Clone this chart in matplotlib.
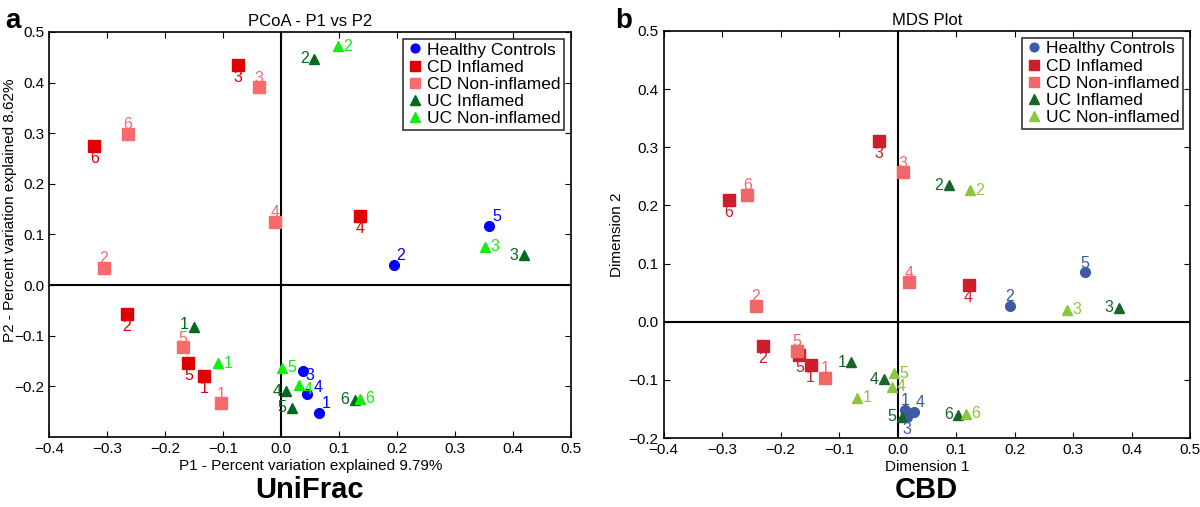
import matplotlib
matplotlib.use("Agg")
import matplotlib.pyplot as plt

plt.rcParams['font.family'] = ['Liberation Sans', 'DejaVu Sans']

# ---- data: panel a (UniFrac PCoA) ----
groups = ['Healthy Controls', 'CD Inflamed', 'CD Non-inflamed', 'UC Inflamed', 'UC Non-inflamed']

a_hc_id = ['1', '2', '3', '4', '5']
a_hc_x = [0.066, 0.194, 0.037, 0.045, 0.359]
a_hc_y = [-0.252, 0.039, -0.169, -0.215, 0.116]

a_cdi_id = ['1', '2', '3', '4', '5', '6']
a_cdi_x = [-0.133, -0.266, -0.074, 0.136, -0.160, -0.322]
a_cdi_y = [-0.180, -0.057, 0.435, 0.136, -0.153, 0.275]

a_cdn_id = ['1', '2', '3', '4', '5', '6']
a_cdn_x = [-0.103, -0.306, -0.038, -0.010, -0.170, -0.264]
a_cdn_y = [-0.233, 0.034, 0.391, 0.125, -0.123, 0.299]

a_uci_id = ['1', '2', '3', '4', '5', '6']
a_uci_x = [-0.150, 0.057, 0.418, 0.009, 0.018, 0.127]
a_uci_y = [-0.082, 0.447, 0.059, -0.210, -0.242, -0.226]

a_ucn_id = ['1', '2', '3', '4', '5', '6']
a_ucn_x = [-0.109, 0.098, 0.352, 0.030, 0.001, 0.135]
a_ucn_y = [-0.154, 0.472, 0.076, -0.197, -0.163, -0.224]

# ---- data: panel b (CBD MDS) ----
b_hc_id = ['1', '2', '3', '4', '5']
b_hc_x = [0.013, 0.192, 0.016, 0.027, 0.320]
b_hc_y = [-0.151, 0.027, -0.163, -0.155, 0.085]

b_cdi_id = ['1', '2', '3', '4', '5', '6']
b_cdi_x = [-0.149, -0.230, -0.032, 0.121, -0.168, -0.288]
b_cdi_y = [-0.074, -0.042, 0.311, 0.063, -0.057, 0.210]

b_cdn_id = ['1', '2', '3', '4', '5', '6']
b_cdn_x = [-0.124, -0.242, 0.009, 0.020, -0.172, -0.257]
b_cdn_y = [-0.096, 0.027, 0.257, 0.068, -0.050, 0.218]

b_uci_id = ['1', '2', '3', '4', '5', '6']
b_uci_x = [-0.079, 0.087, 0.378, -0.023, 0.007, 0.103]
b_uci_y = [-0.070, 0.235, 0.024, -0.099, -0.163, -0.160]

b_ucn_id = ['1', '2', '3', '4', '5', '6']
b_ucn_x = [-0.069, 0.124, 0.290, -0.010, -0.007, 0.116]
b_ucn_y = [-0.131, 0.226, 0.021, -0.112, -0.089, -0.158]

# ---- styles ----
markers = ['o', 's', 's', '^', '^']
sizes = [7, 8, 8, 7.5, 7.5]
a_colors = ['#0000ff', '#e00000', '#f86b6b', '#006a1c', '#11ee11']
b_colors = ['#3d5aa6', '#cc1f2b', '#f0676a', '#17652a', '#8cc63e']

# label placement (offset in points) for each point
OFF = {'a': (0, 6.5), 'b': (0, -9), 'l': (-7, 0), 'r': (7, 0),
       'ur': (5, 7), 'dr': (5.5, -3.5), 'r4': (8, 5), 'rl': (6.5, -3), 'l1': (-7, 1.5)}
a_place = [['ur', 'ur', 'dr', 'r4', 'ur'], ['b'] * 6, ['a'] * 6,
           ['l1', 'l', 'l', 'l', 'l', 'l'],
           ['r', 'r', 'r', 'rl', 'r', 'r']]
b_place = [['a', 'a', 'b', 'ur', 'a'], ['b'] * 6, ['a'] * 6, ['l'] * 6, ['r'] * 6]


def panel(ax, data, colors, place, ylim, yticks):
    for k, (ids, xs, ys) in enumerate(data):
        ax.plot(xs, ys, ls='none', marker=markers[k], ms=sizes[k],
                color=colors[k], mec=colors[k], label=groups[k], zorder=3)
        for i, t in enumerate(ids):
            dx, dy = OFF[place[k][i]]
            ax.annotate(t, (xs[i], ys[i]), xytext=(dx, dy), textcoords='offset points',
                        ha='center', va='center', color=colors[k], fontsize=11.5, zorder=4)
    ax.axhline(0, color='black', lw=1.5, zorder=1)
    ax.axvline(0, color='black', lw=1.5, zorder=1)
    ax.set_xlim(-0.4, 0.5)
    ax.set_ylim(*ylim)
    ax.set_xticks([-0.4, -0.3, -0.2, -0.1, 0.0, 0.1, 0.2, 0.3, 0.4, 0.5])
    ax.set_yticks(yticks)
    ax.tick_params(direction='in', top=True, right=True, labelsize=11, length=4)
    for s in ax.spines.values():
        s.set_linewidth(1.2)
    leg = ax.legend(loc='upper right', fontsize=12.5, frameon=True, fancybox=False,
                    borderaxespad=0.4, handletextpad=0.2, handlelength=1.0,
                    borderpad=0.2, labelspacing=0.12, numpoints=1, markerscale=0.9)
    leg.get_frame().set_edgecolor('black')
    leg.get_frame().set_linewidth(1.2)


fig = plt.figure(figsize=(12, 5.07), dpi=100)
ax1 = fig.add_axes([0.041, 0.138, 0.435, 0.799])
ax2 = fig.add_axes([0.553, 0.136, 0.439, 0.803])

panel(ax1, [(a_hc_id, a_hc_x, a_hc_y), (a_cdi_id, a_cdi_x, a_cdi_y), (a_cdn_id, a_cdn_x, a_cdn_y),
            (a_uci_id, a_uci_x, a_uci_y), (a_ucn_id, a_ucn_x, a_ucn_y)],
      a_colors, a_place, (-0.3, 0.5), [-0.2, -0.1, 0.0, 0.1, 0.2, 0.3, 0.4, 0.5])
panel(ax2, [(b_hc_id, b_hc_x, b_hc_y), (b_cdi_id, b_cdi_x, b_cdi_y), (b_cdn_id, b_cdn_x, b_cdn_y),
            (b_uci_id, b_uci_x, b_uci_y), (b_ucn_id, b_ucn_x, b_ucn_y)],
      b_colors, b_place, (-0.2, 0.5), [-0.2, -0.1, 0.0, 0.1, 0.2, 0.3, 0.4, 0.5])

ax1.set_title('PCoA - P1 vs P2', fontsize=12, pad=4)
ax1.set_xlabel('P1 - Percent variation explained 9.79%', fontsize=11, labelpad=2)
ax1.set_ylabel('P2 - Percent variation explained 8.62%', fontsize=11, labelpad=2)
ax1.yaxis.set_label_coords(-0.062, 0.56)
ax2.set_title('MDS Plot', fontsize=12, pad=4)
ax2.set_xlabel('Dimension 1', fontsize=11, labelpad=2)
ax2.set_ylabel('Dimension 2', fontsize=11, labelpad=2)
ax2.yaxis.set_label_coords(-0.075, 0.5)

fig.text(0.004, 0.985, 'a', fontsize=20, fontweight='bold', va='top')
fig.text(0.513, 0.985, 'b', fontsize=20, fontweight='bold', va='top')
fig.text(0.258, 0.006, 'UniFrac', fontsize=21, fontweight='bold', ha='center', va='bottom')
fig.text(0.772, 0.006, 'CBD', fontsize=21, fontweight='bold', ha='center', va='bottom')

fig.savefig('out.png', dpi=100)
